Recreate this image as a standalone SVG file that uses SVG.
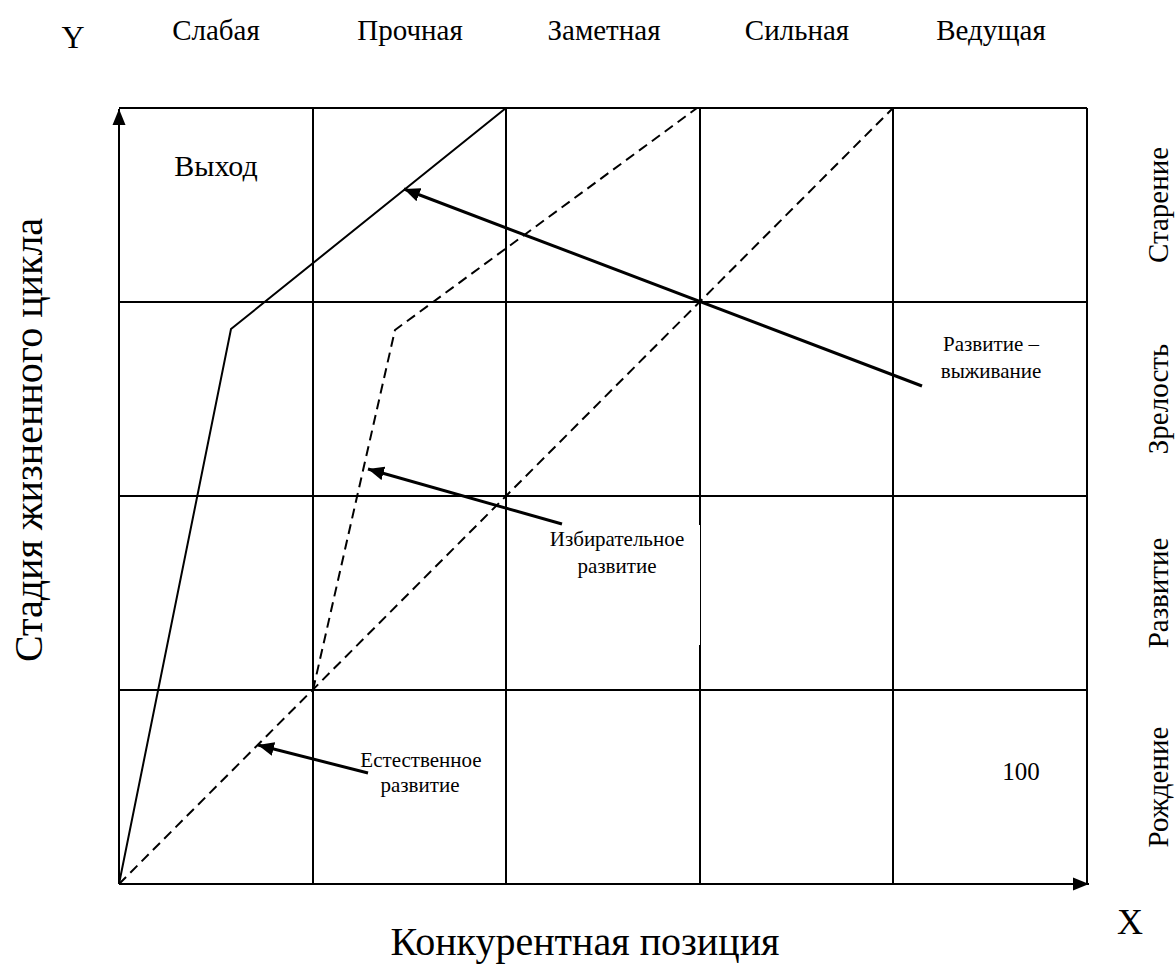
<svg xmlns="http://www.w3.org/2000/svg" width="1175" height="965" viewBox="0 0 1175 965">
<defs>
<style>
text{font-family:"Liberation Serif","Times New Roman",serif;fill:#000}
.grid{stroke:#000;stroke-width:2;fill:none}
.solid{stroke:#000;stroke-width:2;fill:none}
.dash{stroke:#000;stroke-width:2;fill:none;stroke-dasharray:10 6}
.ptr{stroke:#000;stroke-width:3;fill:none}
.lbl{font-size:21px;text-anchor:middle}
.hdr{font-size:29px;text-anchor:middle}
</style>
<marker id="ah" markerUnits="userSpaceOnUse" markerWidth="18" markerHeight="14" refX="16" refY="7" orient="auto">
<path d="M0,0 L16,7 L0,14 Z" fill="#000"/>
</marker>
<marker id="ax" markerUnits="userSpaceOnUse" markerWidth="18" markerHeight="14" refX="16" refY="7" orient="auto">
<path d="M0,0.5 L16,7 L0,13.5 Z" fill="#000"/>
</marker>
</defs>
<rect width="1175" height="965" fill="#fff"/>
<g id="grid">
<line class="grid" x1="119" y1="108" x2="1087" y2="108"/>
<line class="grid" x1="119" y1="302" x2="1087" y2="302"/>
<line class="grid" x1="119" y1="496" x2="1087" y2="496"/>
<line class="grid" x1="119" y1="690" x2="1087" y2="690"/>
<line class="grid" x1="313" y1="108" x2="313" y2="884"/>
<line class="grid" x1="506" y1="108" x2="506" y2="884"/>
<line class="grid" x1="700" y1="108" x2="700" y2="884"/>
<line class="grid" x1="893" y1="108" x2="893" y2="884"/>
<line class="grid" x1="1087" y1="108" x2="1087" y2="884"/>
</g>
<g id="axes">
<line class="grid" x1="119" y1="884" x2="119" y2="109" marker-end="url(#ax)"/>
<line class="grid" x1="119" y1="884" x2="1089" y2="884" marker-end="url(#ax)"/>
</g>
<g id="curves">
<polyline class="solid" points="119,884 231,329 506,108"/>
<polyline class="dash" points="313,690 395,330 697,108"/>
<line class="dash" x1="119" y1="884" x2="893" y2="108"/>
</g>
<rect x="545" y="525" width="155" height="120" fill="#fff"/>
<g id="connectors">
<line class="ptr" x1="922" y1="386" x2="404" y2="189" marker-end="url(#ah)"/>
<line class="ptr" x1="562" y1="524" x2="368" y2="469" marker-end="url(#ah)"/>
<line class="ptr" x1="368" y1="773" x2="258" y2="745" marker-end="url(#ah)"/>
</g>
<g id="label-survival">
<text class="lbl" x="991" y="351">Развитие –</text>
<text class="lbl" x="991" y="378">выживание</text>
</g>
<g id="label-selective">
<text class="lbl" x="617" y="546">Избирательное</text>
<text class="lbl" x="617" y="573">развитие</text>
</g>
<g id="label-natural">
<text class="lbl" x="421" y="767">Естественное</text>
<text class="lbl" x="420" y="792">развитие</text>
</g>
<g id="cell-labels">
<text x="216" y="176" font-size="30" text-anchor="middle">Выход</text>
<text x="1021" y="780" font-size="25" text-anchor="middle">100</text>
</g>
<g id="top-labels">
<text x="73" y="48" font-size="32" text-anchor="middle">Y</text>
<text class="hdr" x="216" y="40">Слабая</text>
<text class="hdr" x="410" y="40">Прочная</text>
<text class="hdr" x="604" y="40">Заметная</text>
<text class="hdr" x="797" y="40">Сильная</text>
<text class="hdr" x="991" y="40">Ведущая</text>
</g>
<g id="right-labels">
<text class="hdr" transform="translate(1168,205) rotate(-90)">Старение</text>
<text class="hdr" transform="translate(1168,399) rotate(-90)">Зрелость</text>
<text class="hdr" transform="translate(1168,593) rotate(-90)">Развитие</text>
<text class="hdr" transform="translate(1168,787) rotate(-90)">Рождение</text>
</g>
<g id="axis-titles">
<text transform="translate(42,440) rotate(-90)" font-size="40" text-anchor="middle">Стадия жизненного цикла</text>
<text x="585" y="955" font-size="40" text-anchor="middle">Конкурентная позиция</text>
<text x="1130" y="934" font-size="36" text-anchor="middle">X</text>
</g>
</svg>
